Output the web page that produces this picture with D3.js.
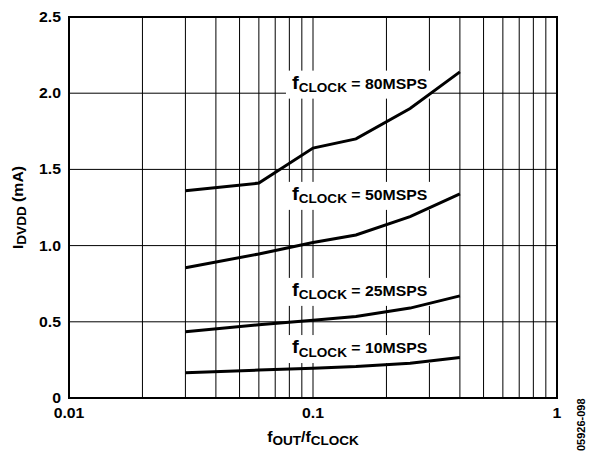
<!DOCTYPE html>
<html>
<head>
<meta charset="utf-8">
<script src="https://cdn.jsdelivr.net/npm/d3@7"></script>
<style>
  body { margin: 0; background: #fff; }
  svg { display: block; }
  text { font-family: "Liberation Sans", Arial, sans-serif; font-weight: bold; fill: #000; }
</style>
</head>
<body>
<svg id="chart" width="589" height="452"></svg>
<script>
// values
let ratio = [0.03, 0.06, 0.1, 0.15, 0.25, 0.4];
let idd_80 = [1.36, 1.41, 1.64, 1.70, 1.90, 2.14];
let idd_50 = [0.855, 0.945, 1.02, 1.07, 1.19, 1.34];
let idd_25 = [0.435, 0.48, 0.51, 0.535, 0.59, 0.67];
let idd_10 = [0.165, 0.183, 0.195, 0.206, 0.228, 0.265];
let clock_names = ["80MSPS", "50MSPS", "25MSPS", "10MSPS"];
let label_y = [2.03, 1.30, 0.67, 0.295];
let label_x = 0.082;
let y_ticks = [0, 0.5, 1.0, 1.5, 2.0, 2.5];
let y_tick_text = ["0", "0.5", "1.0", "1.5", "2.0", "2.5"];
let x_ticks = [0.01, 0.1, 1];
let x_tick_text = ["0.01", "0.1", "1"];

let series = [idd_80, idd_50, idd_25, idd_10];

let margin = { top: 17, right: 32, bottom: 54, left: 69 };
let svg = d3.select("#chart");
let width = +svg.attr("width") - margin.left - margin.right;
let height = +svg.attr("height") - margin.top - margin.bottom;
let g = svg.append("g").attr("transform", `translate(${margin.left}, ${margin.top})`);

let x = d3.scaleLog().domain([0.01, 1]).range([0, width]);
let y = d3.scaleLinear().domain([0, 2.5]).range([height, 0]);

// the source font is a bit wider than Arial, so stretch text horizontally
let sx = 1.13;

// grid
g.selectAll(".vgrid")
    .data(x.ticks())
    .enter().append("line")
        .attr("x1", d => x(d)).attr("x2", d => x(d))
        .attr("y1", 0).attr("y2", height)
        .attr("stroke", "#000").attr("stroke-width", 1);

g.selectAll(".hgrid")
    .data(y_ticks)
    .enter().append("line")
        .attr("x1", 0).attr("x2", width)
        .attr("y1", d => y(d)).attr("y2", d => y(d))
        .attr("stroke", "#000").attr("stroke-width", 1);

// frame
g.append("rect")
    .attr("width", width).attr("height", height)
    .attr("fill", "none").attr("stroke", "#000").attr("stroke-width", 2);

// tick labels
g.selectAll(".ylab")
    .data(y_ticks)
    .enter().append("text")
        .attr("transform", d => `translate(-8, ${y(d) + 5}) scale(${sx},1)`)
        .attr("text-anchor", "end")
        .attr("font-size", "14px")
        .text((d, i) => y_tick_text[i]);

g.selectAll(".xlab")
    .data(x_ticks)
    .enter().append("text")
        .attr("transform", d => `translate(${x(d)}, ${height + 19.5}) scale(${sx},1)`)
        .attr("text-anchor", "middle")
        .attr("font-size", "14px")
        .text((d, i) => x_tick_text[i]);

// series labels with white boxes
series.forEach((s, i) => {
    let lx = x(label_x), ly = y(label_y[i]);
    g.append("rect")
        .attr("x", lx - 6).attr("y", ly - 18)
        .attr("width", 145).attr("height", 28)
        .attr("fill", "#fff");
    let t = g.append("text")
        .attr("transform", `translate(${lx}, ${ly}) scale(${sx},1)`);
    t.append("tspan").attr("font-size", "18px").text("f");
    t.append("tspan").attr("font-size", "12px").attr("dy", 3.5).text("CLOCK");
    t.append("tspan").attr("font-size", "14px").attr("dy", -3.5).text(" = " + clock_names[i]);
});

// lines
let line = d3.line()
    .x((d, i) => x(ratio[i]))
    .y(d => y(d));

g.selectAll(".series")
    .data(series)
    .enter().append("path")
        .attr("d", line)
        .attr("fill", "none")
        .attr("stroke", "#000")
        .attr("stroke-width", 3);

// axis titles
let xt = svg.append("text")
    .attr("transform", `translate(${margin.left + width / 2}, 441.5) scale(${sx},1)`)
    .attr("text-anchor", "middle");
xt.append("tspan").attr("font-size", "14px").text("f");
xt.append("tspan").attr("font-size", "12px").attr("dy", 3).text("OUT");
xt.append("tspan").attr("font-size", "14px").attr("dy", -3).text("/f");
xt.append("tspan").attr("font-size", "12px").attr("dy", 3).text("CLOCK");

let yt = svg.append("text")
    .attr("transform", `translate(23, ${margin.top + height / 2}) rotate(-90) scale(${sx},1)`)
    .attr("text-anchor", "middle");
yt.append("tspan").attr("font-size", "14px").text("I");
yt.append("tspan").attr("font-size", "12px").attr("dy", 3).text("DVDD");
yt.append("tspan").attr("font-size", "14px").attr("dy", -3).text(" (mA)");

// figure code
svg.append("text")
    .attr("transform", "translate(585, 451) rotate(-90)")
    .attr("font-size", "11px")
    .attr("font-weight", "normal")
    .text("05926-098");
</script>
</body>
</html>
